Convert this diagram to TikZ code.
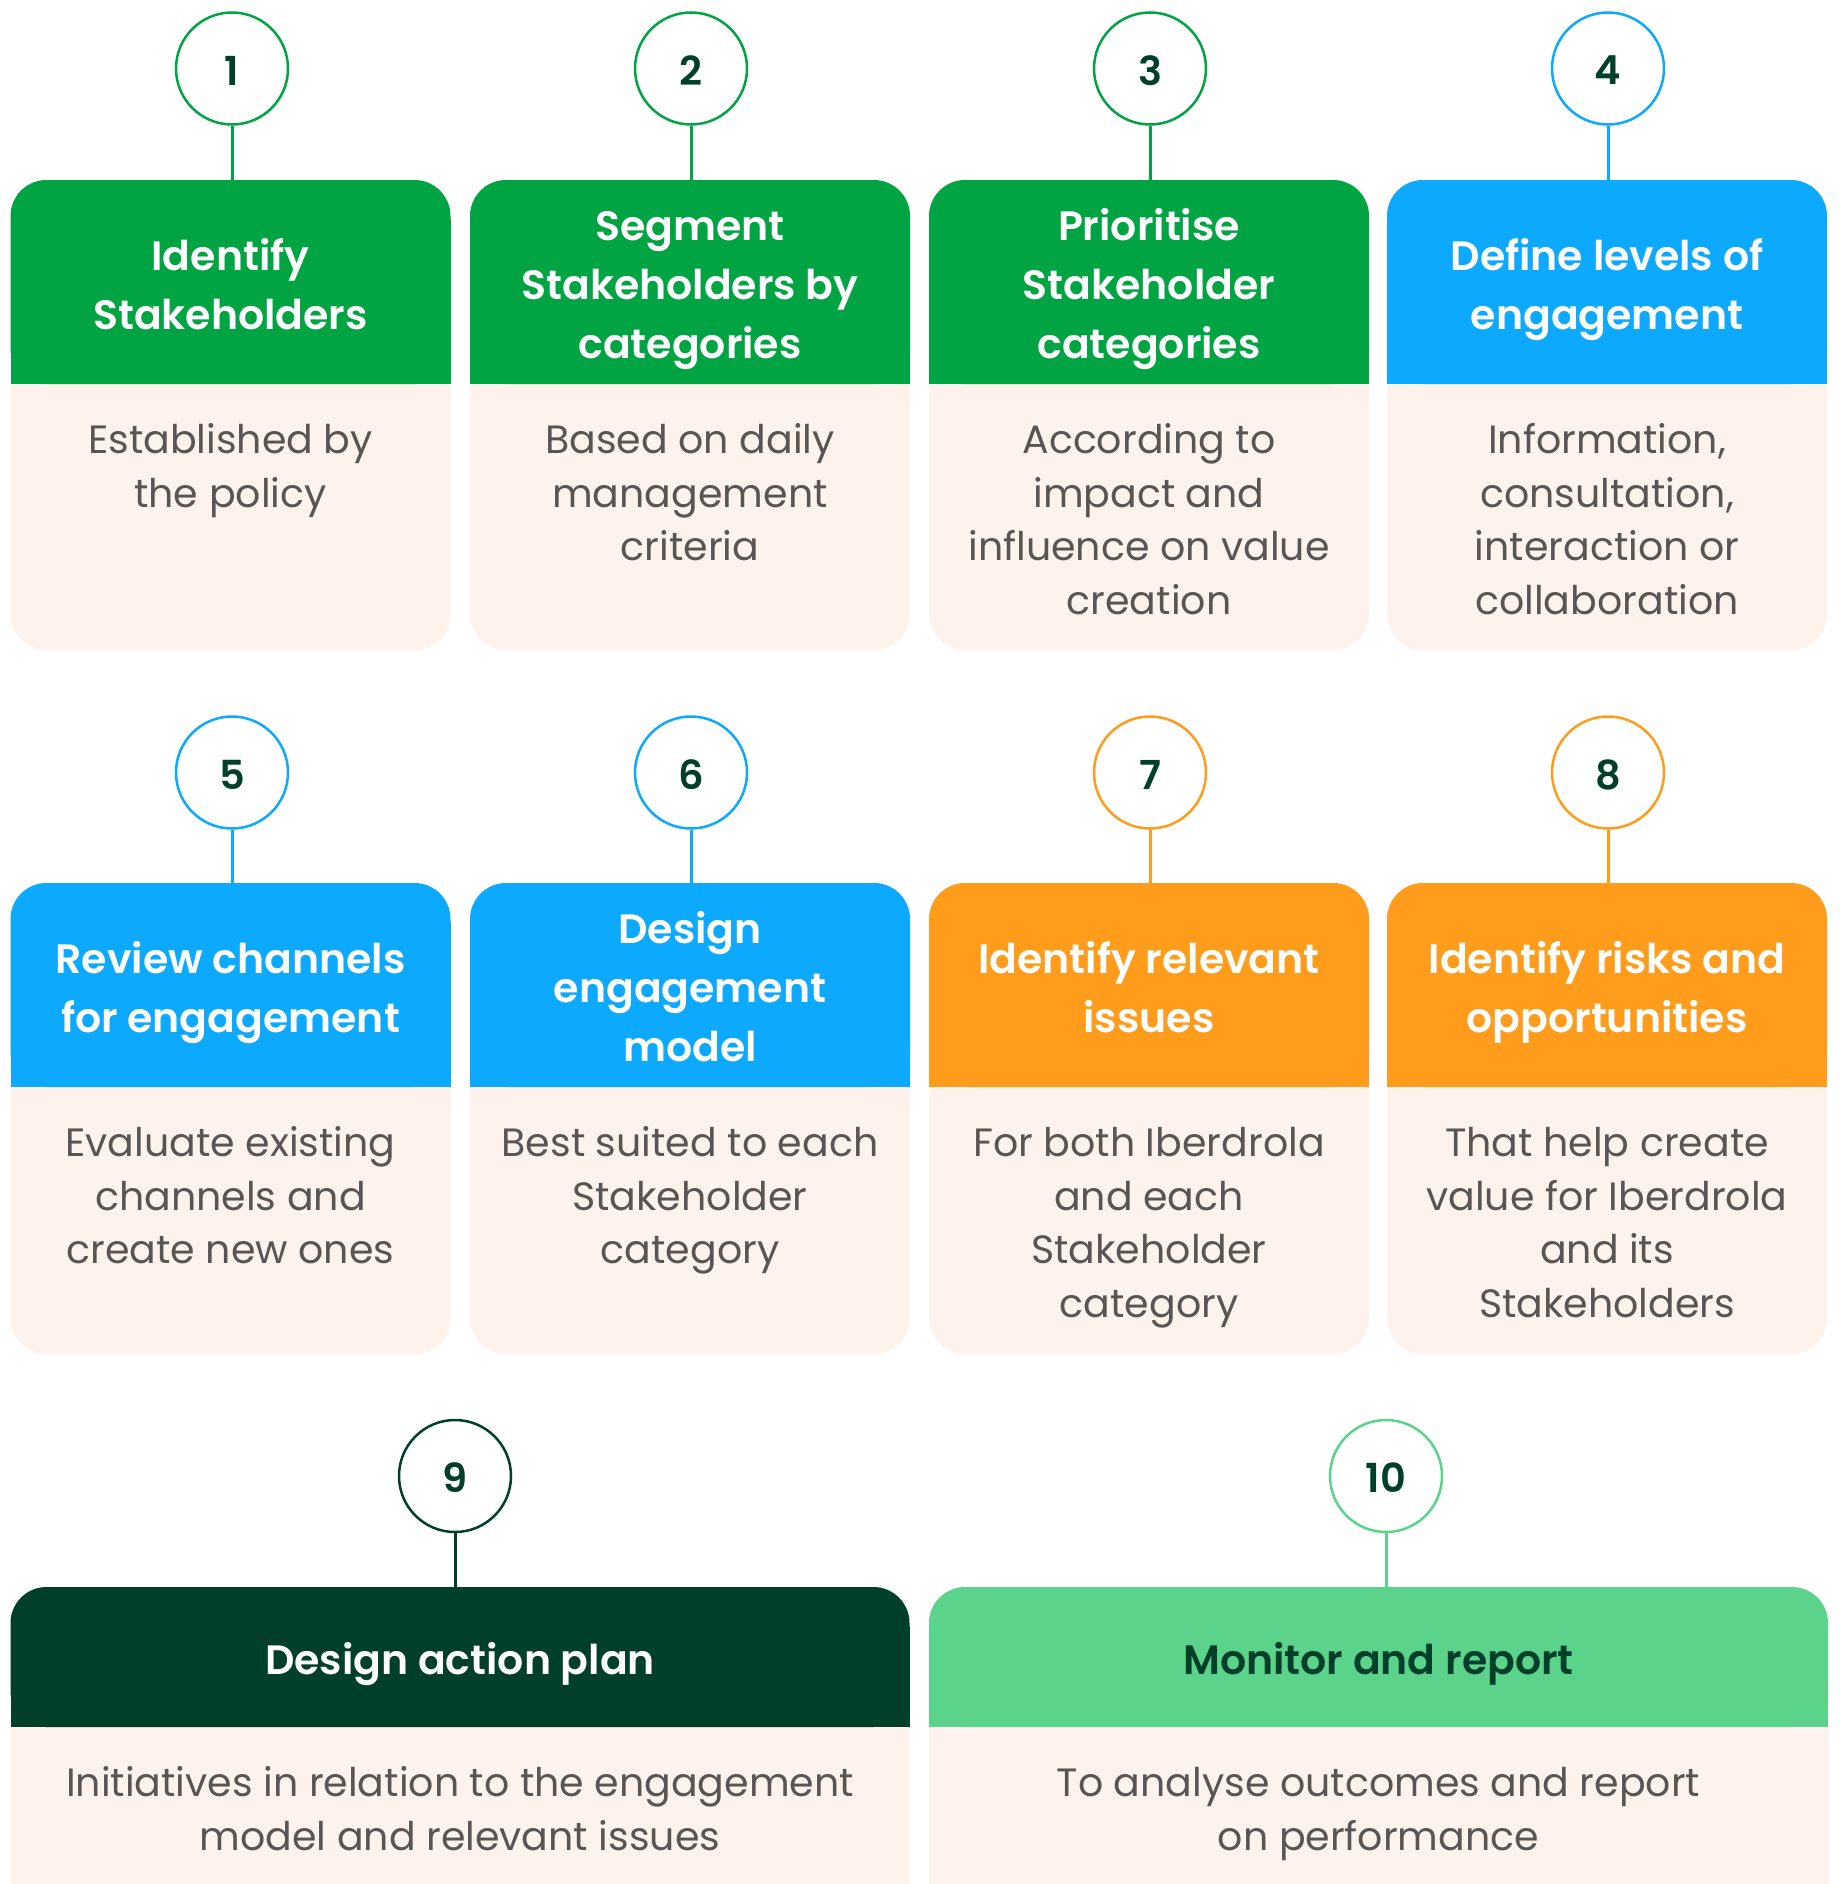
\documentclass[tikz,border=0pt]{standalone}
\usepackage{fontspec}
\setmainfont{Poppins}
\newfontfamily\headfont{Poppins SemiBold}
\definecolor{cgreen}{RGB}{0,164,67}
\definecolor{cblue}{RGB}{13,169,255}
\definecolor{corange}{RGB}{255,156,28}
\definecolor{cdark}{RGB}{0,64,42}
\definecolor{clight}{RGB}{92,211,139}
\definecolor{cbeige}{RGB}{254,243,236}
\definecolor{cgrey}{RGB}{90,85,83}
\newcommand\cardw{440}
% #1 id, #2 left x, #3 top y, #4 header height, #5 body height, #6 colour, #7 header text colour, #8 header text, #9 body text
\newcommand\mkcard[9]{%
  \fill[cbeige, rounded corners=36pt] (#2,#3) rectangle ++(\cardw,{#4+#5});
  \fill[#6, rounded corners=36pt] (#2,#3) rectangle ++(\cardw,#4);
  \fill[#6] ({#2},{#3+40}) rectangle ++(\cardw,{#4-40});
  \node[hbox, minimum height=#4*1pt] (h#1) at ({#2+\cardw/2},{#3+#4/2}) {};
  \node[headtxt, text=#7] (t#1) at ({#2+\cardw/2},{#3+#4/2+6}) {\strut #8\strut};
  \node[bodytxt, anchor=north] (b#1) at ({#2+\cardw/2},{#3+#4+32}) {\strut #9};
}
% #1 id, #2 x, #3 y, #4 colour, #5 number
\newcommand\mkcirc[5]{%
  \node[numcirc, draw=#4] (c#1) at (#2,#3) {};
  \node[numtxt] (n#1) at ([yshift=-2pt]c#1.center) {#5};
  \draw[#4, line width=3pt] (c#1.south) -- (c#1.south |- h#1.north);
}
\begin{document}
\begin{tikzpicture}[x=1pt,y=-1pt,
  hbox/.style={inner sep=0pt, minimum width=10pt},
  headtxt/.style={inner sep=0pt, align=center, font=\fontsize{41}{59}\headfont},
  bodytxt/.style={inner sep=0pt, align=center, text=cgrey, font=\fontsize{39.5}{53.5}\selectfont},
  numcirc/.style={circle, fill=white, line width=2.5pt, minimum size=112pt, inner sep=0pt},
  numtxt/.style={inner sep=0pt, text=cdark, font=\fontsize{40}{48}\headfont}]
\useasboundingbox (0,0) rectangle (1839,1884);
\clip (0,0) rectangle (1839,1884);
\fill[white] (0,0) rectangle (1839,1884);
% row 1
\mkcard{1}{10.5}{180}{204}{266}{cgreen}{white}{Identify\\Stakeholders}{Established by\\the policy}
\mkcard{2}{470}{180}{204}{266}{cgreen}{white}{Segment\\Stakeholders by\\categories}{Based on daily\\management\\criteria}
\mkcard{3}{929}{180}{204}{266}{cgreen}{white}{Prioritise\\Stakeholder\\categories}{According to\\impact and\\influence on value\\creation}
\mkcard{4}{1387}{180}{204}{266}{cblue}{white}{Define levels of\\engagement}{Information,\\consultation,\\interaction or\\collaboration}
% row 2
\mkcard{5}{10.5}{883}{204}{267}{cblue}{white}{Review channels\\for engagement}{Evaluate existing\\channels and\\create new ones}
\mkcard{6}{470}{883}{204}{267}{cblue}{white}{Design\\engagement\\model}{Best suited to each\\Stakeholder\\category}
\mkcard{7}{929}{883}{204}{267}{corange}{white}{Identify relevant\\issues}{For both Iberdrola\\and each\\Stakeholder\\category}
\mkcard{8}{1387}{883}{204}{267}{corange}{white}{Identify risks and\\opportunities}{That help create\\value for Iberdrola\\and its\\Stakeholders}
% row 3
\renewcommand\cardw{899}
\mkcard{9}{10.5}{1587}{140}{310}{cdark}{white}{Design action plan}{Initiatives in relation to the engagement\\model and relevant issues}
\mkcard{10}{929}{1587}{140}{310}{clight}{cdark}{Monitor and report}{To analyse outcomes and report\\on performance}
% circles
\mkcirc{1}{232}{68.5}{cgreen}{1}
\mkcirc{2}{691}{68.5}{cgreen}{2}
\mkcirc{3}{1150}{68.5}{cgreen}{3}
\mkcirc{4}{1608}{68.5}{cblue}{4}
\mkcirc{5}{232}{772.5}{cblue}{5}
\mkcirc{6}{691}{772.5}{cblue}{6}
\mkcirc{7}{1150}{772.5}{corange}{7}
\mkcirc{8}{1608}{772.5}{corange}{8}
\mkcirc{9}{455}{1476}{cdark}{9}
\mkcirc{10}{1386}{1476}{clight}{10}
\end{tikzpicture}
\end{document}
